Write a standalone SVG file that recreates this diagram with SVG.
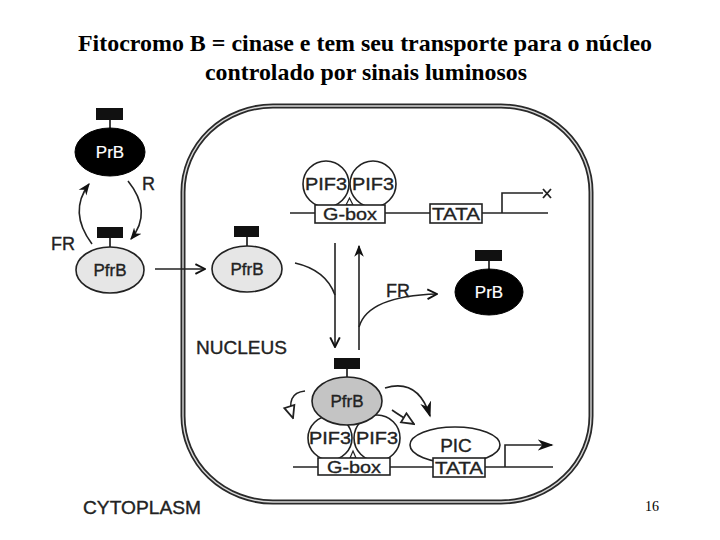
<svg xmlns="http://www.w3.org/2000/svg" width="720" height="540" viewBox="0 0 720 540">
<defs>
<style>
.t{font-family:"Liberation Serif","Times New Roman",serif;font-weight:bold;font-size:23px;fill:#000}
.s{font-family:"Liberation Sans",Arial,sans-serif;fill:#222;stroke:#222;stroke-width:0.35}
.lbl{font-size:17px;text-anchor:middle}
.big{font-size:18px}
.ln{fill:none;stroke:#222;stroke-width:1.6}
.box{fill:#fff;stroke:#222;stroke-width:1.6}
.cap{fill:#111}
.light{fill:#e6e6e6;stroke:#222;stroke-width:1.6}
.mid{fill:#c4c4c4;stroke:#222;stroke-width:1.6}
.dark{fill:#000;stroke:#000}
.wt{fill:#fff;stroke:#fff;stroke-width:0.2}
</style>
<marker id="fh" viewBox="0 0 10 10" refX="9" refY="5" markerWidth="12" markerHeight="12" markerUnits="userSpaceOnUse" orient="auto"><path d="M0 1 L10 5 L0 9 L3 5 Z" fill="#111"/></marker>
<marker id="vh" viewBox="0 0 10 10" refX="9" refY="5" markerWidth="12" markerHeight="12" markerUnits="userSpaceOnUse" orient="auto"><path d="M1 1 L9 5 L1 9" fill="none" stroke="#111" stroke-width="1.6"/></marker>
<marker id="sh" viewBox="0 0 10 10" refX="9" refY="5" markerWidth="16" markerHeight="16" markerUnits="userSpaceOnUse" orient="auto"><path d="M0 1.5 L10 5 L0 8.5 L3 5 Z" fill="#111"/></marker>
<marker id="oh" viewBox="0 0 10 10" refX="9" refY="5" markerWidth="15" markerHeight="15" markerUnits="userSpaceOnUse" orient="auto"><path d="M1 1.5 L9 5 L1 8.5 Z" fill="#fff" stroke="#222" stroke-width="1.2"/></marker>
</defs>
<rect width="720" height="540" fill="#fff"/>

<g id="title">
<text class="t" x="365" y="51" text-anchor="middle" textLength="574" lengthAdjust="spacingAndGlyphs">Fitocromo B = cinase e tem seu transporte para o núcleo</text>
<text class="t" x="366" y="80" text-anchor="middle" textLength="322" lengthAdjust="spacingAndGlyphs">controlado por sinais luminosos</text>
</g>

<g id="nucleus">
<rect x="183" y="106" width="408" height="396" rx="90" ry="86" fill="none" stroke="#2a2a2a" stroke-width="5"/>
<rect x="183" y="106" width="408" height="396" rx="90" ry="86" fill="none" stroke="#d8d8d8" stroke-width="1.4"/>
<text class="s big" x="196" y="354" textLength="91" lengthAdjust="spacingAndGlyphs">NUCLEUS</text>
</g>
<text id="cytoplasm" class="s big" x="83" y="514" textLength="118" lengthAdjust="spacingAndGlyphs">CYTOPLASM</text>
<text id="page" x="652" y="511" text-anchor="middle" font-family="Liberation Serif, serif" font-size="14" fill="#000">16</text>

<g id="connectors">
<path class="ln" d="M92 244 Q68 212 89 184" marker-end="url(#fh)"/>
<path class="ln" d="M128 181 Q153 212 131 239" marker-end="url(#fh)"/>
<path class="ln" d="M155 269 L205 269" marker-end="url(#vh)"/>
<path class="ln" d="M295 263 Q326 270 335 295"/>
<path class="ln" d="M335 243 L335 347" marker-end="url(#vh)"/>
<path class="ln" d="M359 350 L359 246" marker-end="url(#fh)"/>
<path class="ln" d="M359 327 Q368 296 437 294" marker-end="url(#vh)"/>
<path class="ln" d="M305 391 Q285 393 293 418" marker-end="url(#oh)"/>
<path class="ln" d="M385 388 Q418 378 430 416" marker-end="url(#sh)"/>
<path class="ln" d="M392 410 Q399 415 414 424" marker-end="url(#oh)"/>
</g>
<text class="s" x="51" y="250" font-size="18">FR</text>
<text class="s" x="142" y="190" font-size="18">R</text>
<text class="s" x="386" y="297" font-size="18">FR</text>

<g id="prb-cyto">
<rect class="cap" x="96" y="108" width="27" height="12"/>
<line x1="110" y1="120" x2="110" y2="128" stroke="#111" stroke-width="1.6"/>
<ellipse class="dark" cx="110" cy="152" rx="35" ry="24"/>
<text class="s lbl wt" x="110" y="158" font-size="18">PrB</text>
</g>

<g id="pfrb-cyto">
<rect class="cap" x="97" y="227" width="26" height="11"/>
<line x1="110" y1="238" x2="110" y2="247" stroke="#111" stroke-width="1.6"/>
<ellipse class="light" cx="110" cy="270" rx="34" ry="23"/>
<text class="s lbl" x="110" y="276" font-size="18">PfrB</text>
</g>

<g id="pfrb-nuc">
<rect class="cap" x="234" y="226" width="25" height="11"/>
<line x1="247" y1="237" x2="247" y2="246" stroke="#111" stroke-width="1.6"/>
<ellipse class="light" cx="247" cy="269" rx="35" ry="23"/>
<text class="s lbl" x="247" y="275" font-size="18">PfrB</text>
</g>

<g id="prb-nuc">
<rect class="cap" x="475" y="250" width="27" height="11"/>
<line x1="489" y1="261" x2="489" y2="270" stroke="#111" stroke-width="1.6"/>
<ellipse class="dark" cx="489" cy="292" rx="34" ry="23"/>
<text class="s lbl wt" x="489" y="298" font-size="18">PrB</text>
</g>

<g id="gene-top">
<line class="ln" x1="290" y1="213" x2="548" y2="213"/>
<circle class="box" cx="326" cy="184" r="23"/>
<circle class="box" cx="373" cy="184" r="23"/>
<path d="M346 205 L349.5 198 L353 205 Z" fill="#fff" stroke="#222" stroke-width="1.2"/>
<text class="s lbl" x="326" y="190" textLength="42" lengthAdjust="spacingAndGlyphs">PIF3</text>
<text class="s lbl" x="373" y="190" textLength="42" lengthAdjust="spacingAndGlyphs">PIF3</text>
<rect class="box" x="315" y="205" width="70" height="18"/>
<text class="s lbl" x="350" y="220" textLength="54" lengthAdjust="spacingAndGlyphs">G-box</text>
<rect class="box" x="430" y="204" width="52" height="19" stroke-width="2.2"/>
<text class="s lbl" x="456" y="220" textLength="48" lengthAdjust="spacingAndGlyphs">TATA</text>
<path class="ln" d="M502 213 V193 H543"/>
<path d="M543 189 L551 198 M551 189 L543 198" stroke="#222" stroke-width="1.8"/>
</g>

<g id="gene-bottom">
<line class="ln" x1="293" y1="467" x2="553" y2="467"/>
<circle class="box" cx="330" cy="438" r="22"/>
<circle class="box" cx="377" cy="438" r="23"/>
<path d="M350 458 L353 451 L356 458 Z" fill="#fff" stroke="#222" stroke-width="1.2"/>
<text class="s lbl" x="330" y="444" textLength="42" lengthAdjust="spacingAndGlyphs">PIF3</text>
<text class="s lbl" x="377" y="444" textLength="42" lengthAdjust="spacingAndGlyphs">PIF3</text>
<rect class="box" x="318" y="458" width="72" height="17"/>
<text class="s lbl" x="354" y="473" textLength="54" lengthAdjust="spacingAndGlyphs">G-box</text>
<ellipse class="box" cx="455" cy="445" rx="45" ry="18"/>
<text class="s" x="456" y="452" font-size="19" text-anchor="middle">PIC</text>
<rect class="box" x="433" y="458" width="52" height="19" stroke-width="2.2"/>
<text class="s lbl" x="459" y="474" textLength="48" lengthAdjust="spacingAndGlyphs">TATA</text>
<path class="ln" d="M505 467 V445 H552" marker-end="url(#sh)"/>
</g>

<g id="pfrb-bottom">
<rect class="cap" x="334" y="358" width="26" height="11"/>
<line x1="347" y1="369" x2="347" y2="378" stroke="#111" stroke-width="1.6"/>
<ellipse class="mid" cx="347" cy="401" rx="35" ry="24"/>
<text class="s lbl" x="347" y="407" font-size="18">PfrB</text>
</g>
</svg>
